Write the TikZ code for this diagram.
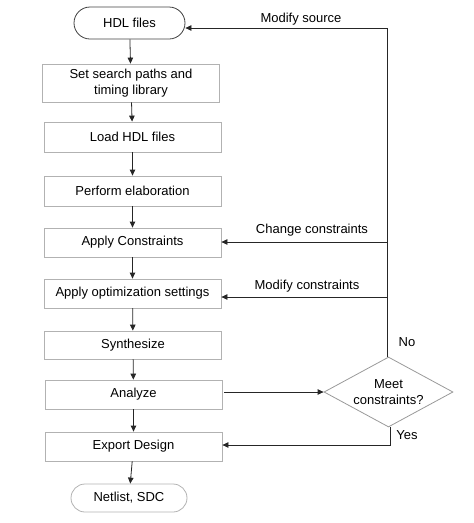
\documentclass[tikz,border=0pt]{standalone}
\usepackage{fontspec}
\setmainfont{Liberation Sans}
\usetikzlibrary{shapes.geometric,shapes.misc,arrows.meta}
\begin{document}
\begin{tikzpicture}[x=1pt,y=-1pt,
  every node/.style={font=\fontsize{13}{16}\selectfont, text=black},
  stepbox/.style={draw=black!30, line width=0.8pt, minimum width=177pt, inner sep=0pt, align=center},
  term/.style={rounded rectangle, draw, line width=0.8pt, inner sep=0pt},
  decide/.style={diamond, aspect=1.84, draw=black!40, line width=0.8pt, minimum width=129pt, minimum height=70pt, inner sep=0pt, align=center},
  conn/.style={draw=black!85, line width=0.8pt, -{Triangle[length=6pt,width=5.5pt]}},
  lbl/.style={inner sep=0pt}
]
\useasboundingbox (0,0) rectangle (474,523);
\node[term, draw=black!75, minimum width=111pt, minimum height=32pt] (hdl) at (129.5,23) {HDL files};
\node[stepbox, minimum height=38pt] (set) at (131,83) {Set search paths and\\timing library};
\node[stepbox, minimum height=30pt] (load) at (132.5,137) {Load HDL files};
\node[stepbox, minimum height=30pt] (elab) at (132.5,191) {Perform elaboration};
\node[stepbox, minimum height=29pt] (cons) at (132.5,242.5) {Apply Constraints};
\node[stepbox, minimum height=29pt] (opt) at (132.5,293.5) {Apply optimization settings};
\node[stepbox, minimum height=28pt] (syn) at (133,345) {Synthesize};
\node[stepbox, minimum height=29pt] (ana) at (133.5,394.5) {Analyze};
\node[stepbox, minimum height=29pt] (exp) at (133.5,446.5) {Export Design};
\node[term, draw=black!30, minimum width=116pt, minimum height=28pt] (net) at (129,498) {Netlist, SDC};
\node[decide] (meet) at (388.5,392) {Meet\\constraints?};

\coordinate (top) at (387.5,28);
\coordinate (cc) at (387.5,242);
\coordinate (mc) at (387.5,297);
\coordinate (yb) at (390.5,445);

\draw[conn] (hdl) -- (set);
\draw[conn] (set) -- (load);
\draw[conn] (load) -- (elab);
\draw[conn] (elab) -- (cons);
\draw[conn] (cons) -- (opt);
\draw[conn] (opt) -- (syn);
\draw[conn] (syn) -- (ana);
\draw[conn] (ana) -- (exp);
\draw[conn] (exp) -- (net);
\draw[conn] (ana.east |- meet) ++(2,0) -- (meet.west);
\draw[conn] (meet.north -| top) -- (top) -- (hdl.east |- top);
\draw[conn] (cc) -- (cons.east |- cc);
\draw[conn] (mc) -- (opt.east |- mc);
\draw[conn] (meet.south -| yb) -- (yb) -- (exp.east |- yb);

\node[lbl] at (301,19) {Modify source};
\node[lbl] at (312,230) {Change constraints};
\node[lbl] at (307,286) {Modify constraints};
\node[lbl] at (407,342) {No};
\node[lbl] at (407,435) {Yes};
\end{tikzpicture}
\end{document}
